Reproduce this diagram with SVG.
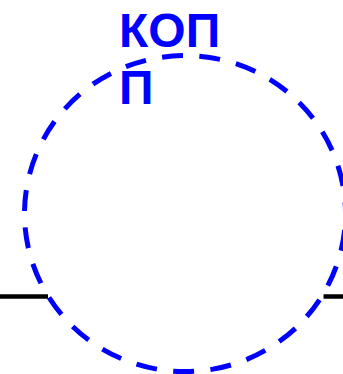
<svg xmlns="http://www.w3.org/2000/svg" width="343" height="374" viewBox="0 0 343 374">
<style>
.lbl{font-family:"Liberation Sans",Arial,sans-serif;font-weight:bold;font-size:48px;fill:#0000ff}
.wire{stroke:#000;stroke-width:4.5;fill:none}
.ring{stroke:#0000ff;stroke-width:5;fill:none;stroke-dasharray:21 16.4;stroke-dashoffset:-16.5}
</style>
<g id="connectors">
<line class="wire" x1="0" y1="296.5" x2="48" y2="296.5"/>
<line class="wire" x1="323.5" y1="296.5" x2="343" y2="296.5"/>
</g>
<g id="node-circle">
<ellipse class="ring" cx="185" cy="213.6" rx="160.5" ry="158"/>
</g>
<g id="label">
<text class="lbl" x="119" y="47">КОП</text>
<text class="lbl" x="119" y="103.5">П</text>
</g>
</svg>
